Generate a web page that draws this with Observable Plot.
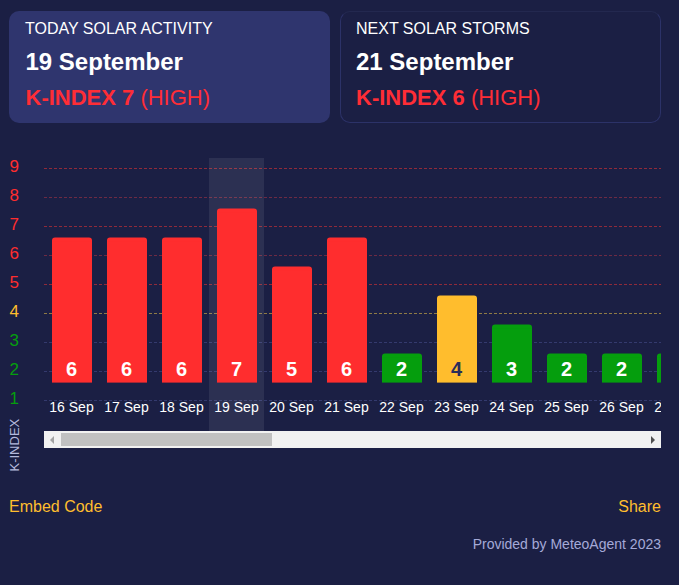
<!DOCTYPE html>
<html><head><meta charset="utf-8">
<script src="https://cdn.jsdelivr.net/npm/d3@7"></script>
<script src="https://cdn.jsdelivr.net/npm/@observablehq/plot@0.6"></script>
<style>
html,body{margin:0;padding:0;background:#1b1f44;width:679px;height:585px;overflow:hidden;font-family:"Liberation Sans",Arial,sans-serif}
.card{position:absolute;top:11px;width:321px;height:112px;box-sizing:border-box;border-radius:10px}
#c1{left:9px;background:#2f356e}
#c2{left:340px;border:1px solid #2c3268;border-top-color:#23284f}
.t{position:absolute;white-space:nowrap;line-height:1}
.a{font-size:16px;color:#fff}
.b{font-size:24px;font-weight:bold;color:#fff}
.c{font-size:22px;color:#ff2d36}
.c b{font-weight:bold}
#chart{position:absolute;left:0;top:150px}
#track{position:absolute;left:44px;top:431px;width:617px;height:17px;background:#f1f1f1}
#thumb{position:absolute;left:17px;top:2px;width:211px;height:13px;background:#c1c1c1}
#la{position:absolute;left:6px;top:4.5px;width:0;height:0;border:4px solid transparent;border-left:0;border-right:4px solid #a3a3a3}
#ra{position:absolute;right:6px;top:4.5px;width:0;height:0;border:4px solid transparent;border-right:0;border-left:4px solid #505050}
</style></head><body>
<div class="card" id="c1"></div><div class="card" id="c2"></div>
<div class="t a" style="left:25px;top:21px">TODAY SOLAR ACTIVITY</div>
<div class="t b" style="left:25.5px;top:50px">19 September</div>
<div class="t c" style="left:25.5px;top:87px"><b>K-INDEX 7</b> (HIGH)</div>
<div class="t a" style="left:356px;top:21px">NEXT SOLAR STORMS</div>
<div class="t b" style="left:356px;top:50px">21 September</div>
<div class="t c" style="left:356px;top:87px"><b>K-INDEX 6</b> (HIGH)</div>
<div id="chart"></div>
<div id="track"><div id="thumb"></div><div id="la"></div><div id="ra"></div></div>
<div class="t" style="left:9px;top:499px;font-size:16px;color:#ffbe2e">Embed Code</div>
<div class="t" style="right:18px;top:499px;font-size:16px;color:#ffbe2e">Share</div>
<div class="t" style="right:18px;top:537px;font-size:14px;color:#a5aad8">Provided by MeteoAgent 2023</div>
<script>
const days = ["16 Sep","17 Sep","18 Sep","19 Sep","20 Sep","21 Sep","22 Sep","23 Sep","24 Sep","25 Sep","26 Sep","27 Sep"];
const kIndex = [6,6,6,7,5,6,2,4,3,2,2,2];
const highlightDay = ["19 Sep"];
const redTicks = [5,6,7,8,9];
const yellowTicks = [4];
const greenTicks = [1,2,3];
const gridLevels = [1,2,3,4,5,6,7,8,9];
const redColor = "#ff2d2e", yellowColor = "#ffbd2d", greenColor = "#059e0d";
const BASE = 1.6, PAD = 0.6, ROUND = 0.15;

const rows = days.map((d,i)=>({d, k:kIndex[i]}));
const colorOf = k => k>=5 ? redColor : k===4 ? yellowColor : greenColor;
const gridColor = k => k===4 ? "#8f7a45" : k>=5 ? (k%2 ? "#8f2a3a" : "#6d2a44") : "#343a6e";

const band = 55;
const plot = Plot.plot({
  width:679, height:325,
  marginLeft:44, marginRight:18, marginTop:8, marginBottom:43,
  x:{type:"band", domain:days, range:[44,44+band*days.length], padding:0, axis:null},
  y:{type:"linear", domain:[1,9], range:[250,18], axis:null},
  color:{type:"identity"},
  style:{background:"transparent", fontFamily:'"Liberation Sans",Arial,sans-serif', overflow:"visible"},
  marks:[
    Plot.ruleY(gridLevels,{y:d=>d, stroke:gridColor, strokeDasharray:"3 2", strokeWidth:1, clip:true}),
    Plot.barY(highlightDay,{x:d=>d, y1:()=>-0.1, y2:()=>9.345, fill:"#fff", fillOpacity:0.08}),
    Plot.barY(rows,{x:"d", y1:d=>d.k+PAD-ROUND*2, y2:d=>d.k+PAD, fill:d=>colorOf(d.k), insetLeft:8, insetRight:7, r:3, clip:true}),
    Plot.barY(rows,{x:"d", y1:()=>BASE, y2:d=>d.k+PAD-ROUND, fill:d=>colorOf(d.k), insetLeft:8, insetRight:7, clip:true}),
    Plot.text(rows,{x:"d", y:()=>2.07, dx:-0.5, text:d=>String(d.k), fill:d=>d.k===4?"#2a2d5a":"#fff", fontSize:20, fontWeight:"bold", clip:true}),
    Plot.axisX({anchor:"bottom", tickSize:0, tickPadding:0, dy:-25, dx:-0.5, fontSize:14, fill:"#fff", color:"#fff", clip:true, label:null, lineAnchor:"middle"}),
    Plot.axisY({anchor:"left", ticks:redTicks, tickFormat:d=>d, tickSize:0, tickPadding:25.5, dy:-1.5, fontSize:17, color:redColor, label:null}),
    Plot.axisY({anchor:"left", ticks:yellowTicks, tickFormat:d=>d, tickSize:0, tickPadding:25.5, dy:-1.5, fontSize:17, color:yellowColor, label:null}),
    Plot.axisY({anchor:"left", ticks:greenTicks, tickFormat:d=>d, tickSize:0, tickPadding:25.5, dy:-1.5, fontSize:17, color:greenColor, label:null}),
    Plot.text(["K-INDEX"],{frameAnchor:"bottom-left", dx:-30, dy:39, rotate:-90, textAnchor:"start", lineAnchor:"middle", fill:"#b4b9dc", fontSize:13})
  ]
});
document.getElementById("chart").appendChild(plot);
</script>
</body></html>
